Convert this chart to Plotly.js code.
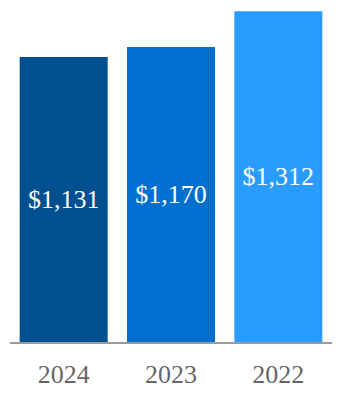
<!DOCTYPE html>
<html><head><meta charset="utf-8">
<script src="https://cdn.plot.ly/plotly-3.0.1.min.js"></script>
<style>html,body{margin:0;padding:0;background:#fff}</style>
</head><body>
<div id="chart" style="width:342px;height:400px"></div>
<script>
const years = ["2024", "2023", "2022"];
const values = [1131, 1170, 1312];
const labels = ["$1,131", "$1,170", "$1,312"];
const colors = ["#004F8F", "#0070D0", "#2B9CFF"];

Plotly.newPlot("chart", [{
  type: "bar",
  x: years,
  y: values,
  text: labels,
  textposition: "inside",
  insidetextanchor: "middle",
  textangle: 0,
  textfont: {family: "Liberation Serif, Times New Roman, serif", size: 26, color: "#ffffff"},
  marker: {color: colors},
  hoverinfo: "none",
  cliponaxis: false
}], {
  width: 342, height: 400,
  margin: {l: 10, r: 10, t: 8, b: 58},
  bargap: 0.18,
  paper_bgcolor: "#ffffff",
  plot_bgcolor: "#ffffff",
  showlegend: false,
  xaxis: {
    type: "category",
    showline: true, linecolor: "#9a9a9a", linewidth: 2,
    ticks: "", ticklabelstandoff: 8,
    tickfont: {family: "Liberation Serif, Times New Roman, serif", size: 26, color: "#666666"},
    showgrid: false, zeroline: false
  },
  yaxis: {
    range: [0, 1325], visible: false, showgrid: false, zeroline: false
  }
}, {staticPlot: true, displayModeBar: false});
</script>
</body></html>
